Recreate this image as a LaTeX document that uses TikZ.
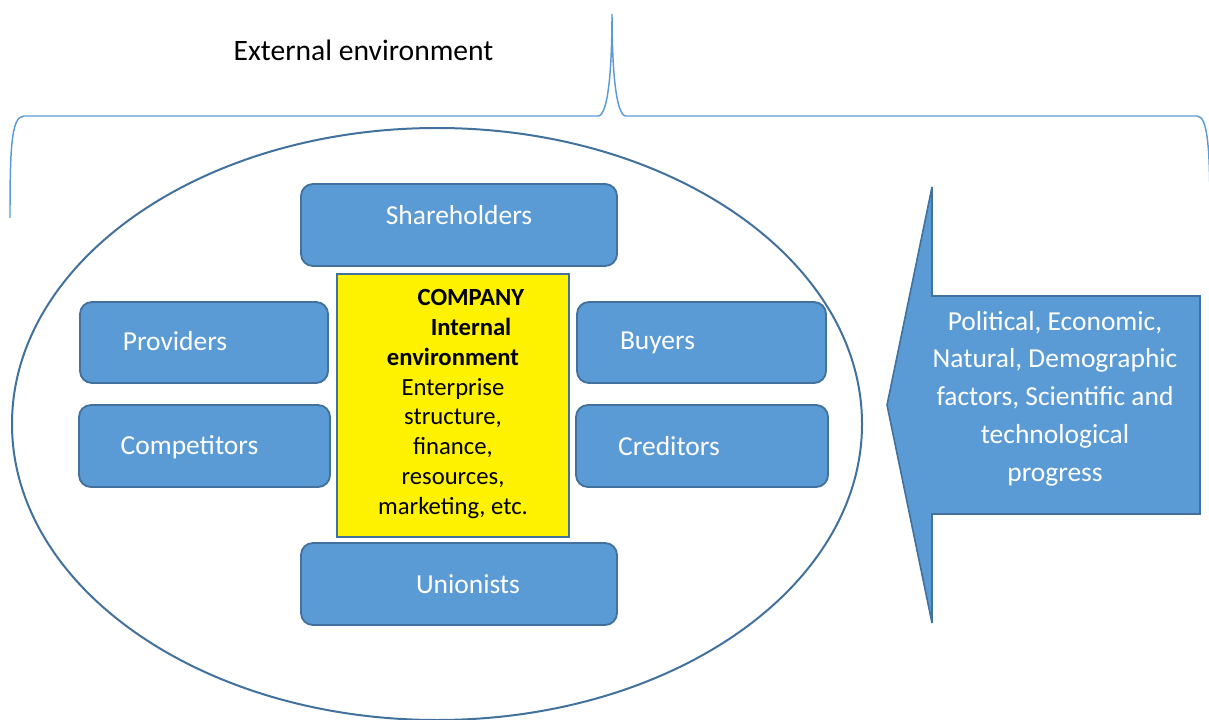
\documentclass[tikz,border=0pt]{standalone}
\usepackage{fontspec}
\setmainfont{Carlito}
\definecolor{boxfill}{HTML}{5B9BD5}
\definecolor{boxline}{HTML}{41719C}
\definecolor{bracecol}{HTML}{5B9BD5}
\begin{document}
\begin{tikzpicture}[x=0.75pt,y=-0.75pt,
  bluebox/.style={draw=boxline,fill=boxfill,line width=1.4pt,rounded corners=9pt,inner sep=0pt},
  boxlabel/.style={text=white,font=\fontsize{20.6}{25}\selectfont,inner sep=0pt,anchor=center}]
\useasboundingbox (0,0) rectangle (1209,720);
% brace
\draw[bracecol,line width=1.1pt] (10,218) .. controls (10,150) and (11,116) .. (24,116) -- (598,116)
  .. controls (608,116) and (612,70) .. (612,14)
  .. controls (612,70) and (616,116) .. (626,116) -- (1197,116)
  .. controls (1208,116) and (1210,150) .. (1210,218);
\node[font=\fontsize{22.2}{26}\selectfont,inner sep=0pt] (ext) at (363.5,50) {External environment};
% ellipse
\draw[boxline,line width=1.5pt] (437,424) ellipse [x radius=425, y radius=296];
% boxes
\path (459,225) node[bluebox,minimum width=316*0.75pt,minimum height=82*0.75pt] (sh) {};
\path (204,342.5) node[bluebox,minimum width=248*0.75pt,minimum height=81*0.75pt] (pr) {};
\path (701.5,342.5) node[bluebox,minimum width=249*0.75pt,minimum height=81*0.75pt] (bu) {};
\path (204.5,446) node[bluebox,minimum width=251*0.75pt,minimum height=82*0.75pt] (co) {};
\path (702,446) node[bluebox,minimum width=252*0.75pt,minimum height=82*0.75pt] (cr) {};
\path (459,584) node[bluebox,minimum width=316*0.75pt,minimum height=82*0.75pt] (un) {};
\node[boxlabel] (shl) at (459,215) {Shareholders};
\node[boxlabel] (prl) at (175,341) {Providers};
\node[boxlabel] (bul) at (657.5,343) {Buyers};
\node[boxlabel] (col) at (189.5,447) {Competitors};
\node[boxlabel] (crl) at (669,446) {Creditors};
\node[boxlabel] (unl) at (468,584) {Unionists};
% company
\node[draw=boxline,fill=yellow,line width=1pt,minimum width=232*0.75pt,minimum height=263*0.75pt,inner sep=0pt] (comp) at (453,405.5) {};
\node[align=center,font=\fontsize{18.5}{22.3}\selectfont,inner sep=0pt] (compl) at (453,404)
  {\hspace*{27pt}\textbf{COMPANY}\\ \hspace*{27pt}\textbf{Internal}\\ \textbf{environment}\\ Enterprise\\ structure,\\ finance,\\ resources,\\ marketing, etc.};
% arrow
\draw[boxline,fill=boxfill,line width=1.2pt,miter limit=1.5] (887,405) -- (932,187) -- (932,296) -- (1200,296) -- (1200,514) -- (932,514) -- (932,623) -- cycle;
\node[align=center,text=white,font=\fontsize{20.6}{28.3}\selectfont,inner sep=0pt] (fac) at (1055,398.5)
  {Political, Economic,\\ Natural, Demographic\\ factors, Scientific and\\ technological\\ progress};
\end{tikzpicture}
\end{document}
